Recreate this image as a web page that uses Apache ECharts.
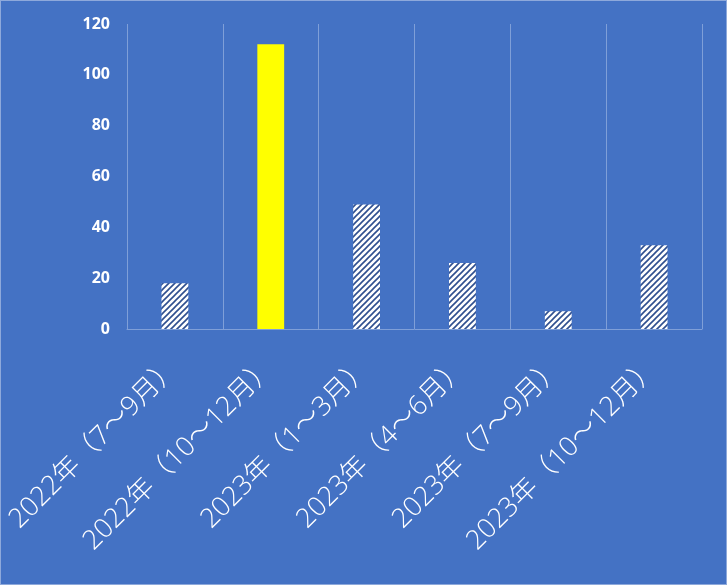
<!DOCTYPE html>
<html><head><meta charset="utf-8">
<script src="https://cdn.jsdelivr.net/npm/echarts@6/dist/echarts.min.js"></script>
<style>html,body{margin:0;padding:0;background:#4472C4;}#c{width:725px;height:583px;border:1px solid #8EA9DB;}</style>
</head><body><div id="c"></div>
<script>
const categories = ['2022年（7～9月）','2022年（10～12月）','2023年（1～3月）','2023年（4～6月）','2023年（7～9月）','2023年（10～12月）'];
const values = [18, 112, 49, 26, 7, 33];
const highlightIndex = 1;
const yTicks = [0, 20, 40, 60, 80, 100, 120];

const pc = document.createElement('canvas');
pc.width = 6; pc.height = 6;
const g = pc.getContext('2d');
g.fillStyle = '#ffffff'; g.fillRect(0,0,6,6);
g.strokeStyle = '#2F4F8F'; g.lineWidth = 1.6;
g.beginPath();
g.moveTo(-1,7); g.lineTo(7,-1);
g.moveTo(-4,4); g.lineTo(4,-4);
g.moveTo(2,10); g.lineTo(10,2);
g.stroke();

const chart = echarts.init(document.getElementById('c'));
chart.setOption({
  backgroundColor: '#4472C4',
  animation: false,
  grid: {left: 126, right: 24, top: 23, bottom: 255, containLabel: false, outerBoundsMode: 'none'},
  xAxis: {
    type: 'category', data: categories,
    axisLine: {lineStyle: {color: '#7F9FD8', width: 1}},
    axisTick: {show: false},
    splitLine: {show: true, lineStyle: {color: '#7F9FD8', width: 1}},
    axisLabel: {rotate: 45, color: '#ffffff', fontSize: 27, margin: 34, interval: 0, fontWeight: 300,
      fontFamily: '"Open Sans", "Noto Sans CJK JP", sans-serif'}
  },
  yAxis: {
    type: 'value', min: yTicks[0], max: yTicks[yTicks.length-1], interval: 20,
    axisLine: {show: false}, axisTick: {show: false},
    splitLine: {show: false},
    axisLabel: {color: '#ffffff', fontSize: 16, fontWeight: 'bold', margin: 17,
      fontFamily: '"Open Sans", sans-serif'}
  },
  series: [{
    type: 'bar', barWidth: '28%',
    data: values.map((v, i) => ({
      value: v,
      itemStyle: i === highlightIndex ? {color: '#FFFF00'} : {color: {image: pc, repeat: 'repeat'}}
    }))
  }]
});
</script></body></html>
